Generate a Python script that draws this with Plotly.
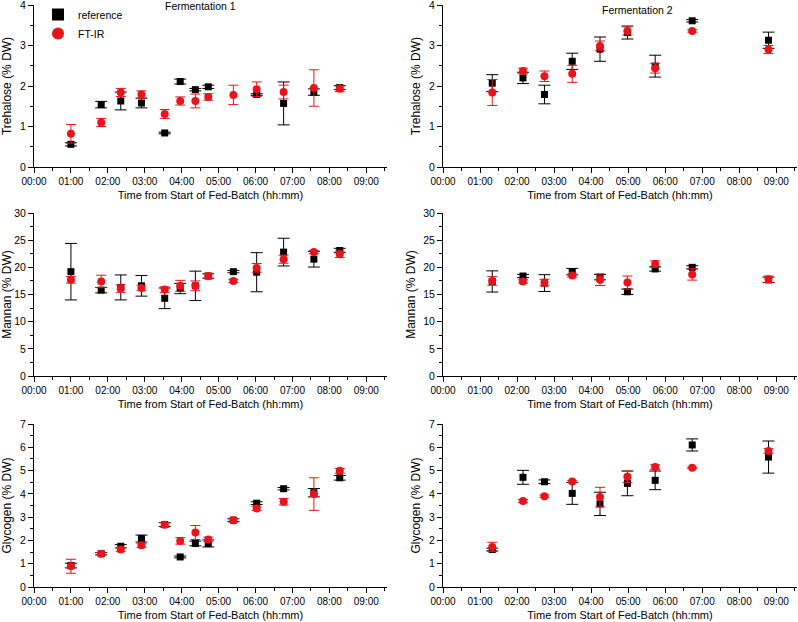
import plotly.graph_objects as go

# time points (hours from start of fed-batch)
f1_time = [1.0, 1.82, 2.35, 2.91, 3.54, 3.96, 4.37, 4.72, 5.40, 6.03, 6.76, 7.58, 8.28]
f2_time = [1.33, 2.16, 2.74, 3.49, 4.24, 4.98, 5.73, 6.73, 8.79]

hour_ticks = list(range(10))
hour_labels = ["%02d:00" % h for h in hour_ticks]

# Fermentation 1 - trehalose
f1_tre_ref = [0.56, 1.54, 1.63, 1.58, 0.84, 2.11, 1.91, 1.98, None, 1.79, 1.57, 1.85, 1.96]
f1_tre_ref_err = [0.04, 0.08, 0.22, 0.12, 0.02, 0.06, 0.03, 0.04, None, 0.02, 0.53, 0.08, 0.05]
f1_tre_ir = [0.82, 1.10, 1.84, 1.79, 1.31, 1.63, 1.63, 1.73, 1.78, 1.92, 1.85, 1.95, 1.93]
f1_tre_ir_err = [0.23, 0.10, 0.10, 0.09, 0.11, 0.10, 0.17, 0.08, 0.24, 0.18, 0.17, 0.45, 0.07]

# Fermentation 2 - trehalose
f2_tre_ref = [2.07, 2.20, 1.79, 2.61, 2.91, 3.32, 2.49, 3.61, 3.13]
f2_tre_ref_err = [0.21, 0.14, 0.23, 0.20, 0.30, 0.16, 0.27, 0.03, 0.20]
f2_tre_ir = [1.84, 2.37, 2.24, 2.30, 2.99, 3.36, 2.44, 3.36, 2.90]
f2_tre_ir_err = [0.32, 0.07, 0.13, 0.21, 0.12, 0.10, 0.12, 0.03, 0.10]

# Fermentation 1 - mannan
f1_man_ref = [19.2, 15.8, 16.3, 16.6, 14.3, 16.1, 16.6, 18.4, 19.2, 19.1, 22.8, 21.5, 23.1]
f1_man_ref_err = [5.2, 0.5, 2.3, 1.9, 1.9, 0.95, 2.7, 0.4, 0.2, 3.6, 2.55, 1.45, 0.4]
f1_man_ir = [17.7, 17.4, 16.1, 16.2, 15.9, 16.6, 16.6, 18.4, 17.5, 19.9, 21.5, 22.8, 22.4]
f1_man_ir_err = [0.6, 1.15, 0.7, 0.5, 0.5, 1.0, 0.9, 0.5, 0.3, 0.8, 0.75, 0.3, 0.6]

# Fermentation 2 - mannan
f2_man_ref = [17.4, 18.4, 17.1, 19.2, 18.2, 15.5, 19.7, 20.0, 17.7]
f2_man_ref_err = [1.95, 0.3, 1.55, 0.6, 0.5, 0.5, 0.4, 0.3, 0.5]
f2_man_ir = [17.5, 17.4, 17.2, 18.5, 17.7, 17.2, 20.6, 18.7, 17.8]
f2_man_ir_err = [0.8, 0.3, 0.6, 0.3, 1.05, 1.2, 0.6, 1.05, 0.6]

# Fermentation 1 - glycogen
f1_gly_ref = [0.92, 1.43, 1.75, 2.08, 2.68, 1.29, 1.87, 1.87, 2.87, 3.60, 4.22, 4.05, 4.69]
f1_gly_ref_err = [0.10, 0.05, 0.07, 0.15, 0.08, 0.04, 0.10, 0.15, 0.06, 0.06, 0.05, 0.18, 0.10]
f1_gly_ir = [0.89, 1.43, 1.61, 1.79, 2.67, 1.98, 2.34, 2.04, 2.87, 3.37, 3.66, 3.99, 4.99]
f1_gly_ir_err = [0.30, 0.05, 0.09, 0.09, 0.10, 0.14, 0.30, 0.10, 0.08, 0.08, 0.14, 0.70, 0.10]

# Fermentation 2 - glycogen
f2_gly_ref = [1.61, 4.71, 4.52, 4.02, 3.57, 4.45, 4.58, 6.10, 5.58]
f2_gly_ref_err = [0.06, 0.30, 0.08, 0.47, 0.50, 0.53, 0.40, 0.26, 0.69]
f2_gly_ir = [1.72, 3.69, 3.90, 4.53, 3.86, 4.73, 5.15, 5.12, 5.84]
f2_gly_ir_err = [0.20, 0.07, 0.05, 0.05, 0.42, 0.25, 0.10, 0.03, 0.10]

RED = "#e8141c"
FONT = "Arial, Liberation Sans, sans-serif"

panels = [
    # (row, col, time, ref, ref_err, ir, ir_err, ytitle, ymax, dtick, minor)
    (0, 0, f1_time, f1_tre_ref, f1_tre_ref_err, f1_tre_ir, f1_tre_ir_err, "Trehalose (% DW)", 4, 1, 0.5),
    (0, 1, f2_time, f2_tre_ref, f2_tre_ref_err, f2_tre_ir, f2_tre_ir_err, "Trehalose (% DW)", 4, 1, 0.5),
    (1, 0, f1_time, f1_man_ref, f1_man_ref_err, f1_man_ir, f1_man_ir_err, "Mannan (% DW)", 30, 5, 2.5),
    (1, 1, f2_time, f2_man_ref, f2_man_ref_err, f2_man_ir, f2_man_ir_err, "Mannan (% DW)", 30, 5, 2.5),
    (2, 0, f1_time, f1_gly_ref, f1_gly_ref_err, f1_gly_ir, f1_gly_ir_err, "Glycogen (% DW)", 7, 1, 0.5),
    (2, 1, f2_time, f2_gly_ref, f2_gly_ref_err, f2_gly_ir, f2_gly_ir_err, "Glycogen (% DW)", 7, 1, 0.5),
]

W, H = 798, 622
col_px = [(34, 387), (443, 797)]
row_px = [(5, 167), (213, 376), (424, 587)]

fig = go.Figure()
layout = {}

for i, (r, c, t, ref, ref_err, ir, ir_err, ytitle, ymax, dtick, minor) in enumerate(panels):
    n = i + 1
    xa = "x" if n == 1 else "x%d" % n
    ya = "y" if n == 1 else "y%d" % n
    show = (n == 1)
    fig.add_trace(go.Scatter(
        x=t, y=ref, mode="markers", name="reference", showlegend=show,
        xaxis=xa, yaxis=ya, cliponaxis=False,
        marker=dict(symbol="square", size=7, color="black"),
        error_y=dict(type="data", array=ref_err, color="black", thickness=1, width=6),
    ))
    fig.add_trace(go.Scatter(
        x=t, y=ir, mode="markers", name="FT-IR", showlegend=show,
        xaxis=xa, yaxis=ya, cliponaxis=False,
        marker=dict(symbol="circle", size=8, color=RED),
        error_y=dict(type="data", array=ir_err, color=RED, thickness=1, width=5),
    ))
    x0, x1 = col_px[c]
    y0, y1 = row_px[r]
    key = "" if n == 1 else str(n)
    layout["xaxis" + key] = dict(
        domain=[x0 / W, x1 / W], range=[0, 9.56], anchor=ya,
        tickvals=hour_ticks, ticktext=hour_labels,
        ticks="outside", ticklen=5, tickwidth=1, tickcolor="black",
        minor=dict(dtick=0.5, ticks="outside", ticklen=3, tickcolor="black"),
        showline=True, linecolor="black", linewidth=1, showgrid=False, zeroline=False,
        tickfont=dict(size=10, color="black", family=FONT),
        title=dict(text="Time from Start of Fed-Batch (hh:mm)", standoff=5,
                   font=dict(size=11, color="black", family=FONT)),
        automargin=False, ticklabeloverflow="allow",
    )
    layout["yaxis" + key] = dict(
        domain=[1 - y1 / H, 1 - y0 / H], range=[0, ymax], anchor=xa,
        dtick=dtick, ticks="outside", ticklen=5, tickwidth=1, tickcolor="black",
        minor=dict(dtick=minor, ticks="outside", ticklen=3, tickcolor="black"),
        showline=True, linecolor="black", linewidth=1, showgrid=False, zeroline=False,
        tickfont=dict(size=10.5, color="black", family=FONT),
        title=dict(text=ytitle, standoff=5, font=dict(size=12, color="black", family=FONT)),
        automargin=False, ticklabeloverflow="allow",
    )

fig.update_layout(**layout)
fig.update_layout(
    width=W, height=H,
    margin=dict(l=0, r=0, t=0, b=0),
    plot_bgcolor="white", paper_bgcolor="white",
    font=dict(family=FONT, color="black"),
    legend=dict(x=38 / W, y=1.0, xanchor="left", yanchor="top",
                bgcolor="rgba(0,0,0,0)", font=dict(size=10.5),
                tracegroupgap=0, itemsizing="constant"),
    annotations=[
        dict(text="Fermentation 1", x=200 / W, y=1 - 6 / H, xref="paper", yref="paper",
             xanchor="center", yanchor="middle", showarrow=False, font=dict(size=10.5)),
        dict(text="Fermentation 2", x=637 / W, y=1 - 10 / H, xref="paper", yref="paper",
             xanchor="center", yanchor="middle", showarrow=False, font=dict(size=10.5)),
    ],
)

fig.write_html("out.html", config={"displayModeBar": False},
               post_script="document.body.style.margin='0';")
